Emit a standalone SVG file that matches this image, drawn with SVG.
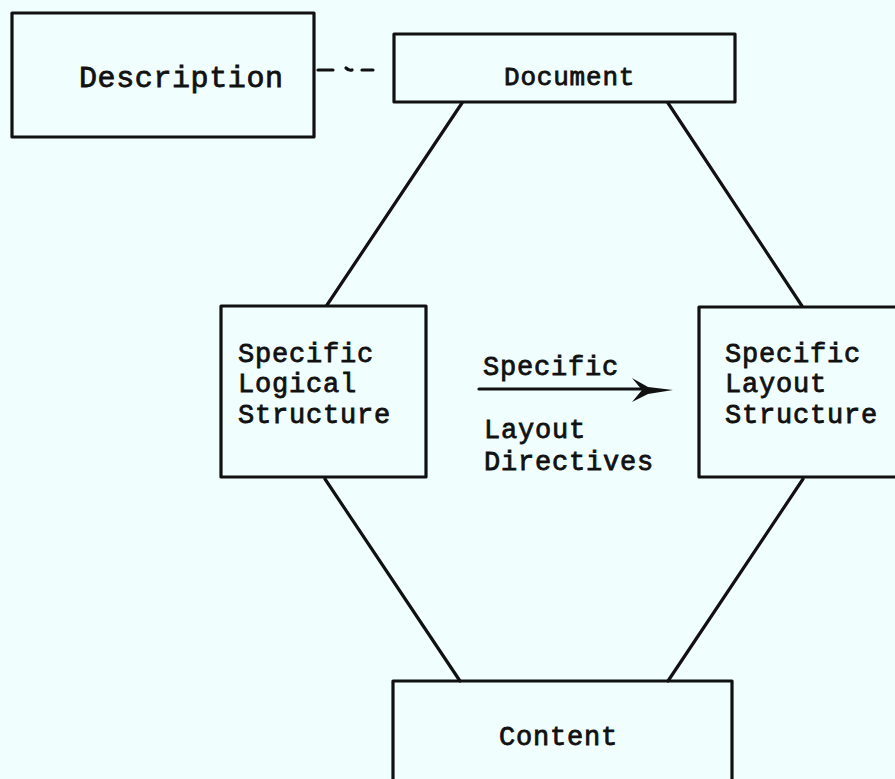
<svg xmlns="http://www.w3.org/2000/svg" width="895" height="779" viewBox="0 0 895 779">
  <style>
    .box { fill: none; stroke: #111; stroke-width: 3.2; stroke-linejoin: round; }
    .edge { fill: none; stroke: #111; stroke-width: 3.2; stroke-linecap: round; }
    .lbl { font-family: "Liberation Mono", "DejaVu Sans Mono", monospace; font-size: 27px; letter-spacing: 0.8px; fill: #111; stroke: #111; stroke-width: 0.8px; }
  </style>

  <rect width="895" height="779" fill="#f0fefe"/>

  <!-- connectors -->
  <g id="connectors">
    <line class="edge" x1="318" y1="70" x2="333" y2="70"/>
    <path class="edge" d="M346,68 Q349,71 352,70"/>
    <line class="edge" x1="362" y1="70" x2="373" y2="70"/>
    <line class="edge" x1="462" y1="103" x2="327" y2="305"/>
    <line class="edge" x1="668" y1="103" x2="802" y2="306"/>
    <line class="edge" x1="325" y1="479" x2="460" y2="681"/>
    <line class="edge" x1="803" y1="479" x2="668" y2="681"/>
    <!-- layout directives arrow -->
    <line class="edge" x1="479" y1="389" x2="645" y2="389" stroke-width="2.2"/>
    <path d="M632,378 L648,387 L673,390 L648,394 L632,402 L642,390 Z" fill="#111"/>
  </g>

  <g id="description">
    <rect class="box" x="12" y="13" width="302" height="124"/>
    <text class="lbl" x="79" y="87" style="font-size:30px;letter-spacing:0.6px">Description</text>
  </g>

  <g id="document">
    <rect class="box" x="394" y="34" width="341" height="68"/>
    <text class="lbl" x="504" y="85" style="font-size:26px">Document</text>
  </g>

  <g id="logical">
    <rect class="box" x="221" y="306" width="205" height="171"/>
    <text class="lbl" x="238" y="362">Specific</text>
    <text class="lbl" x="238" y="392">Logical</text>
    <text class="lbl" x="238" y="423">Structure</text>
  </g>

  <g id="directives">
    <text class="lbl" x="483" y="375">Specific</text>
    <text class="lbl" x="484" y="438">Layout</text>
    <text class="lbl" x="484" y="470">Directives</text>
  </g>

  <g id="layout">
    <rect class="box" x="699" y="307" width="210" height="170"/>
    <text class="lbl" x="725" y="362">Specific</text>
    <text class="lbl" x="725" y="392">Layout</text>
    <text class="lbl" x="725" y="423">Structure</text>
  </g>

  <g id="content">
    <rect class="box" x="393" y="681" width="339" height="120"/>
    <text class="lbl" x="499" y="745">Content</text>
  </g>
</svg>
